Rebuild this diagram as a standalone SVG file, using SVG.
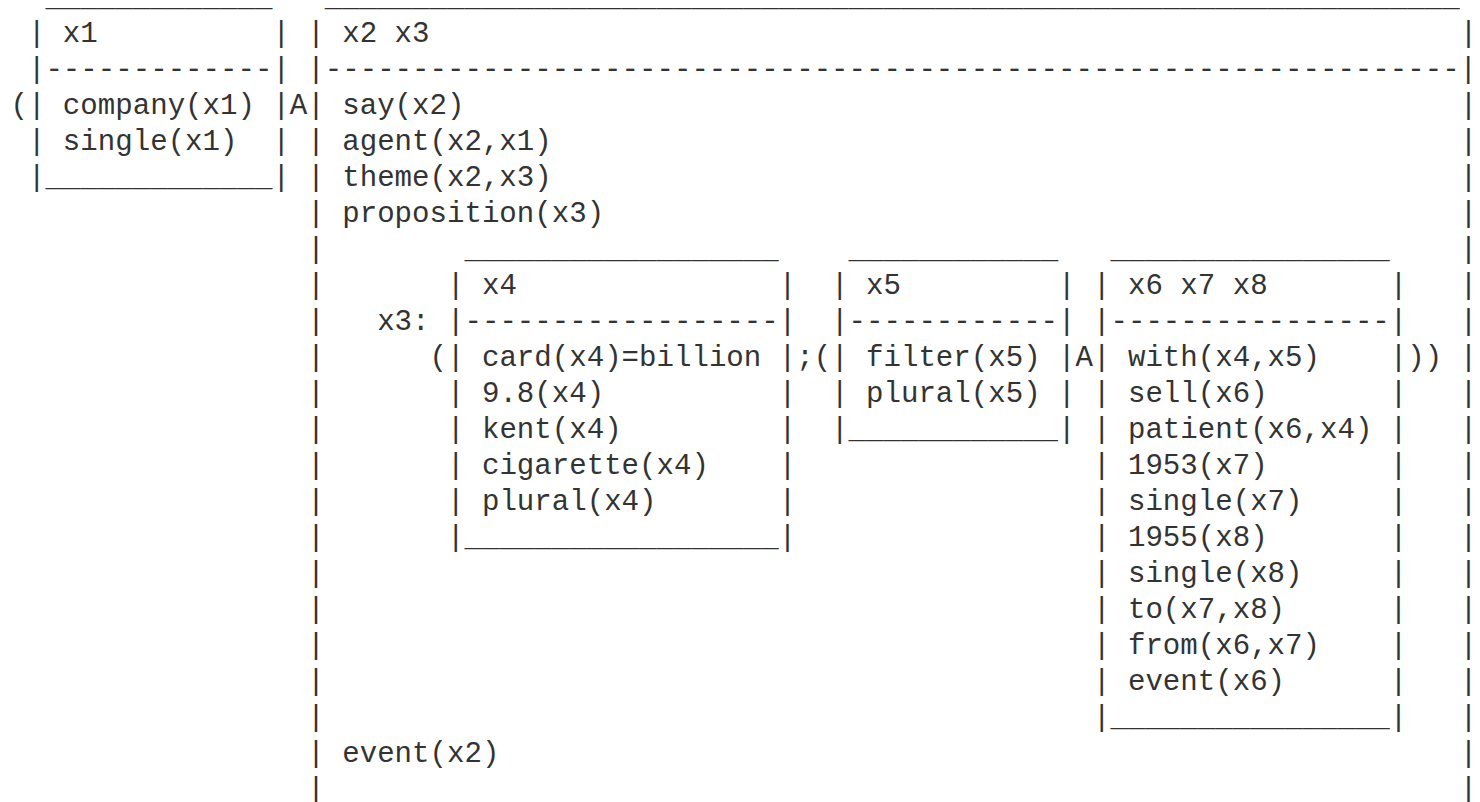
<svg xmlns="http://www.w3.org/2000/svg" width="1480" height="802" viewBox="0 0 1480 802" xml:space="preserve">
<style>
text{font-family:"Liberation Mono","DejaVu Sans Mono",monospace;font-size:29.1px;fill:#333;white-space:pre}
</style>
<rect width="1480" height="802" fill="#fff"/>
<g id="connectors"/>
<g id="drs-outer">
<text x="324.78" y="6">_________________________________________________________________</text>
<text x="307.32" y="42">| x2 x3</text><text x="1459.68" y="42">|</text>
<text x="307.32" y="78">|-----------------------------------------------------------------|</text>
<text x="307.32" y="114">| say(x2)</text><text x="1459.68" y="114">|</text>
<text x="307.32" y="150">| agent(x2,x1)</text><text x="1459.68" y="150">|</text>
<text x="307.32" y="186">| theme(x2,x3)</text><text x="1459.68" y="186">|</text>
<text x="307.32" y="222">| proposition(x3)</text><text x="1459.68" y="222">|</text>
<text x="307.32" y="258">|</text><text x="1459.68" y="258">|</text>
<text x="307.32" y="294">|</text><text x="1459.68" y="294">|</text>
<text x="307.32" y="330">|</text><text x="1459.68" y="330">|</text>
<text x="307.32" y="366">|</text><text x="1459.68" y="366">|</text>
<text x="307.32" y="402">|</text><text x="1459.68" y="402">|</text>
<text x="307.32" y="438">|</text><text x="1459.68" y="438">|</text>
<text x="307.32" y="474">|</text><text x="1459.68" y="474">|</text>
<text x="307.32" y="510">|</text><text x="1459.68" y="510">|</text>
<text x="307.32" y="546">|</text><text x="1459.68" y="546">|</text>
<text x="307.32" y="582">|</text><text x="1459.68" y="582">|</text>
<text x="307.32" y="618">|</text><text x="1459.68" y="618">|</text>
<text x="307.32" y="654">|</text><text x="1459.68" y="654">|</text>
<text x="307.32" y="690">|</text><text x="1459.68" y="690">|</text>
<text x="307.32" y="726">|</text><text x="1459.68" y="726">|</text>
<text x="307.32" y="762">| event(x2)</text><text x="1459.68" y="762">|</text>
<text x="307.32" y="798">|</text><text x="1459.68" y="798">|</text>
</g>
<g id="drs-x1">
<text x="45.42" y="6">_____________</text>
<text x="27.96" y="42">| x1          |</text>
<text x="27.96" y="78">|-------------|</text>
<text x="27.96" y="114">| company(x1) |</text>
<text x="27.96" y="150">| single(x1)  |</text>
<text x="27.96" y="186">|_____________|</text>
</g>
<g id="drs-x4">
<text x="464.46" y="258">__________________</text>
<text x="447" y="294">| x4               |</text>
<text x="447" y="330">|------------------|</text>
<text x="447" y="366">| card(x4)=billion |</text>
<text x="447" y="402">| 9.8(x4)          |</text>
<text x="447" y="438">| kent(x4)         |</text>
<text x="447" y="474">| cigarette(x4)    |</text>
<text x="447" y="510">| plural(x4)       |</text>
<text x="447" y="546">|__________________|</text>
</g>
<g id="drs-x5">
<text x="848.58" y="258">____________</text>
<text x="831.12" y="294">| x5         |</text>
<text x="831.12" y="330">|------------|</text>
<text x="831.12" y="366">| filter(x5) |</text>
<text x="831.12" y="402">| plural(x5) |</text>
<text x="831.12" y="438">|____________|</text>
</g>
<g id="drs-x6-x7-x8">
<text x="1110.48" y="258">________________</text>
<text x="1093.02" y="294">| x6 x7 x8       |</text>
<text x="1093.02" y="330">|----------------|</text>
<text x="1093.02" y="366">| with(x4,x5)    |</text>
<text x="1093.02" y="402">| sell(x6)       |</text>
<text x="1093.02" y="438">| patient(x6,x4) |</text>
<text x="1093.02" y="474">| 1953(x7)       |</text>
<text x="1093.02" y="510">| single(x7)     |</text>
<text x="1093.02" y="546">| 1955(x8)       |</text>
<text x="1093.02" y="582">| single(x8)     |</text>
<text x="1093.02" y="618">| to(x7,x8)      |</text>
<text x="1093.02" y="654">| from(x6,x7)    |</text>
<text x="1093.02" y="690">| event(x6)      |</text>
<text x="1093.02" y="726">|________________|</text>
</g>
<g id="operators">
<text x="10.5" y="114">(</text>
<text x="289.86" y="114">A</text>
<text x="377.16" y="330">x3:</text>
<text x="429.54" y="366">(</text>
<text x="796.2" y="366">;(</text>
<text x="1075.56" y="366">A</text>
<text x="1407.3" y="366">))</text>
</g>
</svg>
